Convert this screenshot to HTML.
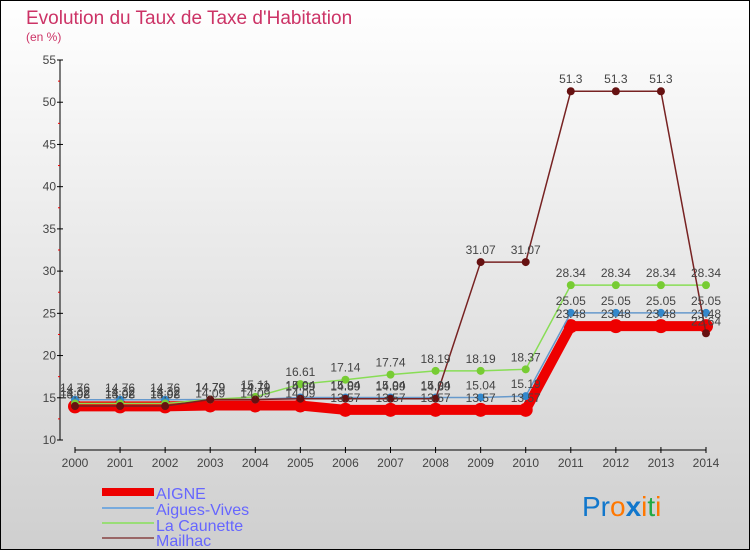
<!DOCTYPE html>
<html><head><meta charset="utf-8"><style>
body{margin:0;}
#wrap{width:750px;height:550px;position:relative;overflow:hidden;font-family:"Liberation Sans",sans-serif;}
</style></head><body>
<div id="wrap">
<svg id="svg" width="750" height="550" xmlns="http://www.w3.org/2000/svg" font-family="Liberation Sans, sans-serif">
<defs><linearGradient id="bg" x1="0" y1="0" x2="0" y2="1"><stop offset="0" stop-color="#ffffff"/><stop offset="1" stop-color="#cfcfcf"/></linearGradient></defs>
<rect x="0.5" y="0.5" width="749" height="549" fill="url(#bg)" stroke="#000"/>
<text x="26" y="24" font-size="19" fill="#cc3366">Evolution du Taux de Taxe d'Habitation</text>
<text x="26" y="41" font-size="12" fill="#cc3366">(en %)</text>
<g id="axes"></g><g id="series"></g><g id="labels"></g>
<g>
<rect x="102" y="488" width="52" height="8" fill="#ee0000"/>
<text x="156" y="499" font-size="16" fill="#6666ff">AIGNE</text>
<rect x="102" y="507" width="52" height="2" fill="#77aadd"/>
<text x="156" y="515" font-size="16" fill="#6666ff">Aigues-Vives</text>
<rect x="102" y="522" width="52" height="2" fill="#99dd77"/>
<text x="156" y="531" font-size="16" fill="#6666ff">La Caunette</text>
<rect x="102" y="537" width="52" height="2" fill="#996666"/>
<text x="156" y="546" font-size="16" fill="#6666ff">Mailhac</text>
</g>
<g font-size="28">
<text x="582" y="516"><tspan fill="#1177cc">Pr</tspan><tspan fill="#ff7700">o</tspan><tspan fill="#1177cc" font-weight="bold">x</tspan><tspan fill="#ff7700">i</tspan><tspan fill="#22aa44">t</tspan><tspan fill="#ff7700">i</tspan></text>
</g>
</svg>
</div>
<script>
const years=["2000","2001","2002","2003","2004","2005","2006","2007","2008","2009","2010","2011","2012","2013","2014"];
const yTicks=[10,15,20,25,30,35,40,45,50,55];
const aigne=[13.98,13.98,13.98,14.09,14.09,14.09,13.57,13.57,13.57,13.57,13.57,23.48,23.48,23.48,23.48];
const aiguesVives=[14.76,14.76,14.76,14.79,14.79,15.04,15.04,15.04,15.04,15.04,15.19,25.05,25.05,25.05,25.05];
const laCaunette=[14.32,14.32,14.32,14.79,15.11,16.61,17.14,17.74,18.19,18.19,18.37,28.34,28.34,28.34,28.34];
const mailhac=[14.02,14.02,14.02,14.79,14.79,14.89,14.89,14.89,14.89,31.07,31.07,51.3,51.3,51.3,22.64];
const NS="http://www.w3.org/2000/svg";
const xs=i=>75+i*(631/14);
const ys=v=>440-(v-10)*(380/45);
function mk(t,a,p){const e=document.createElementNS(NS,t);for(const k in a)e.setAttribute(k,a[k]);p.appendChild(e);return e;}
const axes=document.getElementById('axes');
const ax=mk('line',{x1:60,y1:60,x2:60,y2:440,stroke:'#000'},axes);


yTicks.forEach(v=>{
 mk('line',{x1:57,x2:63,y1:ys(v),y2:ys(v),stroke:'#000'},axes);
 if(v<55)mk('line',{x1:58,x2:60,y1:ys(v+2.5),y2:ys(v+2.5),stroke:'#e00'},axes);
 const t=mk('text',{x:56,y:ys(v)+4,'text-anchor':'end','font-size':12,fill:'#444'},axes);
 t.textContent=v;
 
 
});
const xa=mk('line',{x1:75,y1:450,x2:706,y2:450,stroke:'#000'},axes);


years.forEach((y,i)=>{
 mk('line',{x1:xs(i),x2:xs(i),y1:447,y2:453,stroke:'#000'},axes);
 const t=mk('text',{x:xs(i),y:467,'text-anchor':'middle','font-size':12,fill:'#444'},axes);
 t.textContent=y;
 
 
});
const ser=document.getElementById('series'),lab=document.getElementById('labels');
function draw(d,name,col,w,r,pc,showLabels){
 const g=mk('g',{},ser);
 
 
 mk('polyline',{points:d.map((v,i)=>xs(i)+','+ys(v)).join(' '),fill:'none',stroke:col,'stroke-width':w},g);
 d.forEach((v,i)=>{
  const c=mk('circle',{cx:xs(i),cy:ys(v),r:r,fill:pc},g);
  
  
  if(showLabels){const t=mk('text',{x:xs(i),y:ys(v)-8,'text-anchor':'middle','font-size':12,fill:'#444'},lab);t.textContent=v;}
 });
}
draw(aigne,'aigne','#ee0000',10,7,'#ee0000',false);
draw(aiguesVives,'aigues-vives','#6699cc',1.5,4,'#3388cc',true);
draw(laCaunette,'la-caunette','#88dd55',1.5,4,'#77cc33',true);
draw(mailhac,'mailhac','#772222',1.5,4,'#661111',true);
aigne.forEach((v,i)=>{const t=mk('text',{x:xs(i),y:ys(v)-8,'text-anchor':'middle','font-size':12,fill:'#444'},lab);t.textContent=v;});
</script>
</body></html>
